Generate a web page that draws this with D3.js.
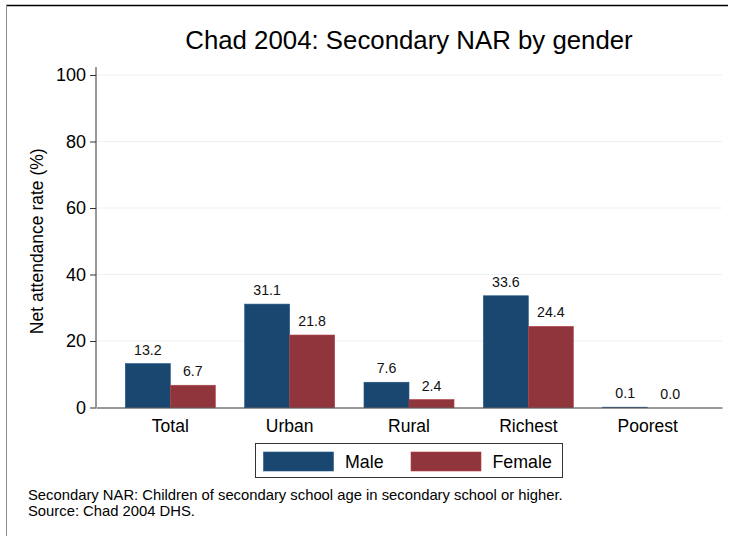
<!DOCTYPE html>
<html><head><meta charset="utf-8">
<script src="https://cdn.jsdelivr.net/npm/d3@7"></script>
<style>body{margin:0;background:#fff}svg{display:block;font-family:"Liberation Sans",Arial,sans-serif}</style>
</head><body><svg id="c" width="730" height="536"></svg>
<script>
const categories = ["Total","Urban","Rural","Richest","Poorest"];
const seriesNames = ["Male","Female"];
const maleValues = [13.2,31.1,7.6,33.6,0.1];
const femaleValues = [6.7,21.8,2.4,24.4,0.0];
const yTicks = [0,20,40,60,80,100];
const colors = ["#1a476f","#90353b"];

const svg = d3.select("#c");
const W=730,H=536;
svg.append("rect").attr("width",W).attr("height",H).attr("fill","#fff");
// outer frame
svg.append("line").attr("x1",6).attr("x2",728).attr("y1",5.5).attr("y2",5.5).attr("stroke","#000").attr("stroke-width",1.5);
svg.append("line").attr("x1",6.5).attr("x2",6.5).attr("y1",5).attr("y2",H).attr("stroke","#888").attr("stroke-width",1);

const L=96,R=722,T=75,B=407.5;
const y=d3.scaleLinear().domain([0,100]).range([B,T]);
const p=0.2456;
const x=d3.scaleBand().domain(categories).range([L,R]).paddingInner(p).paddingOuter(p);
const xs=d3.scaleBand().domain(seriesNames).range([0,x.bandwidth()]).padding(0);

// gridlines
svg.append("g").selectAll("line").data(yTicks.filter(d=>d>0)).join("line")
 .attr("x1",L).attr("x2",R).attr("y1",d=>y(d)).attr("y2",d=>y(d))
 .attr("stroke","#eaf2f3").attr("stroke-width",1.2);

const data = categories.map((c,i)=>({c, vals:[maleValues[i],femaleValues[i]]}));
const g = svg.append("g");
data.forEach(d=>{
  d.vals.forEach((v,j)=>{
    const s=seriesNames[j];
    g.append("rect").attr("x",x(d.c)+xs(s)).attr("width",xs.bandwidth())
     .attr("y",y(v)).attr("height",Math.max(0,B-y(v)))
     .attr("fill",colors[j]).attr("stroke",d3.color(colors[j]).brighter(0.6)).attr("stroke-width",0.6);
    g.append("text").attr("x",x(d.c)+xs(s)+xs.bandwidth()/2).attr("y",y(v)-9)
     .attr("text-anchor","middle").attr("font-size",14.2).attr("fill","#111").text(v.toFixed(1));
  });
});

// y axis
const ya=svg.append("g").attr("transform",`translate(${L},0)`)
 .call(d3.axisLeft(y).tickValues(yTicks).tickSize(6).tickPadding(4));
ya.select(".domain").attr("stroke","#333").attr("d",`M0,${B}V${T-8}`);
ya.selectAll(".tick line").attr("stroke","#333");
ya.selectAll("text").attr("font-size",18).attr("fill","#000").attr("font-family","Liberation Sans,Arial,sans-serif");
// x axis
const xa=svg.append("g").attr("transform",`translate(0,${B})`)
 .call(d3.axisBottom(x).tickSize(0).tickPadding(12));
xa.select(".domain").attr("stroke","#333");
xa.selectAll("text").attr("font-size",17.5).attr("fill","#000").attr("font-family","Liberation Sans,Arial,sans-serif");

// title
svg.append("text").attr("x",(L+R)/2).attr("y",49).attr("text-anchor","middle")
 .attr("font-size",25.8).attr("fill","#000").text("Chad 2004: Secondary NAR by gender");
// y title
svg.append("text").attr("transform",`translate(43,${(T+B)/2}) rotate(-90)`).attr("text-anchor","middle")
 .attr("font-size",17.5).attr("fill","#000").text("Net attendance rate (%)");

// legend
const lg=svg.append("g");
lg.append("rect").attr("x",255.5).attr("y",443.5).attr("width",307).attr("height",34).attr("fill","#fff").attr("stroke","#333").attr("stroke-width",1);
const legX=[263.5,411];
seriesNames.forEach((s,j)=>{
  lg.append("rect").attr("x",legX[j]).attr("y",452).attr("width",70).attr("height",19)
   .attr("fill",colors[j]).attr("stroke",d3.color(colors[j]).brighter(0.6)).attr("stroke-width",0.6);
  lg.append("text").attr("x",legX[j]+81.5).attr("y",468).attr("font-size",17.8).attr("fill","#000").text(s);
});

// notes
svg.append("text").attr("x",28).attr("y",500).attr("font-size",14.8).attr("fill","#000")
 .text("Secondary NAR: Children of secondary school age in secondary school or higher.");
svg.append("text").attr("x",28).attr("y",516).attr("font-size",14.8).attr("fill","#000")
 .text("Source: Chad 2004 DHS.");
</script></body></html>
